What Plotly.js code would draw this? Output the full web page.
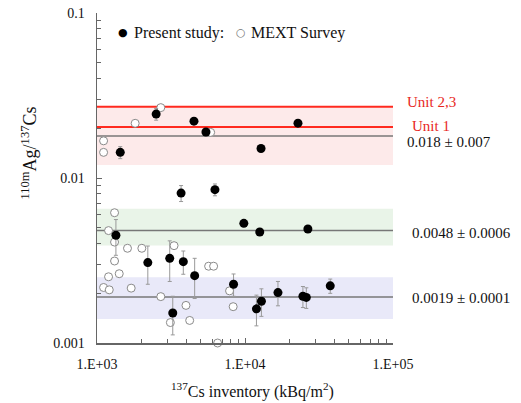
<!DOCTYPE html>
<html>
<head>
<meta charset="utf-8">
<script src="https://cdn.plot.ly/plotly-3.0.1.min.js"></script>
<style>html,body{margin:0;padding:0;background:#fff;}#chart{width:521px;height:403px;}</style>
</head>
<body>
<div id="chart"></div>
<script>
// Present study (filled circles)
const presentX = [2510, 1436, 4520, 5445, 22800, 12830, 3700, 6265, 1342, 2205, 3100, 3830, 4570, 3250, 8370, 9820, 12580, 26600, 11950, 12910, 16700, 24620, 25960, 37670];
const presentY = [0.0244, 0.0143, 0.0221, 0.0190, 0.0215, 0.0151, 0.0081, 0.0085, 0.0045, 0.00307, 0.00326, 0.00311, 0.00256, 0.00152, 0.00227, 0.00531, 0.00471, 0.00491, 0.00161, 0.00179, 0.00202, 0.00192, 0.00189, 0.00222];
const presentErr = [0.002, 0.0012, 0, 0, 0, 0, 0.0009, 0.0007, 0.0011, 0.0008, 0.0009, 0.0005, 0.0007, 0.0004, 0.00035, 0, 0, 0, 0.00034, 0.00034, 0.00034, 0.00028, 0.00027, 0.00022];
// MEXT Survey (open circles)
const mextX = [2698, 1811, 1108, 1108, 5860, 1314, 1197, 1314, 1314, 1413, 1197, 1108, 1210, 1607, 2009, 1702, 3316, 2698, 3992, 3131, 4229, 5677, 6137, 7864, 8318, 6530];
const mextY = [0.0267, 0.02145, 0.0168, 0.0143, 0.0189, 0.00616, 0.0048, 0.00409, 0.00314, 0.00263, 0.00252, 0.00217, 0.0021, 0.00375, 0.00375, 0.00215, 0.00389, 0.00191, 0.00169, 0.00133, 0.00137, 0.00292, 0.00292, 0.00207, 0.00166, 0.001];
// Reactor unit lines
const unitNames = ["Unit 2,3", "Unit 1"];
const unitY = [0.027, 0.0204];
// Mean lines and bands
const meanY = [0.018, 0.0048, 0.0019];
const meanLabels = ["0.018 ± 0.007", "0.0048 ± 0.0006", "0.0019 ± 0.0001"];
const bandLow = [0.012, 0.0039, 0.0014];
const bandHigh = [0.027, 0.0065, 0.0025];
const bandColors = ["#fdeaea", "#e9f4e8", "#e9e9f9"];
// Ticks
const xTickVals = [1e3, 1e4, 1e5];
const xTickText = ["1.E+03", "1.E+04", "1.E+05"];
const yTickVals = [0.001, 0.01, 0.1];
const yTickText = ["0.001", "0.01", "0.1"];

const serif = "Liberation Serif, Times New Roman, serif";
const red = "#ff2a1f";

const traces = [
  {
    x: mextX, y: mextY, type: "scatter", mode: "markers", name: "MEXT Survey",
    cliponaxis: false,
    marker: {symbol: "circle", size: 8, color: "#ffffff", line: {color: "#8a8a8a", width: 1}}
  },
  {
    x: presentX, y: presentY, type: "scatter", mode: "markers", name: "Present study",
    cliponaxis: false,
    error_y: {type: "data", array: presentErr, visible: true, color: "#999999", thickness: 1, width: 2},
    marker: {symbol: "circle", size: 9, color: "#000000"}
  }
];

const shapes = [];
bandLow.forEach((lo, i) => {
  shapes.push({type: "rect", xref: "paper", yref: "y", x0: 0, x1: 1, y0: lo, y1: bandHigh[i],
    fillcolor: bandColors[i], line: {width: 0}, layer: "below"});
});
meanY.forEach(v => {
  shapes.push({type: "line", xref: "paper", yref: "y", x0: 0, x1: 1, y0: v, y1: v,
    line: {color: "#777777", width: 1.5}, layer: "below"});
});
unitY.forEach(v => {
  shapes.push({type: "line", xref: "paper", yref: "y", x0: 0, x1: 1, y0: v, y1: v,
    line: {color: red, width: 2}, layer: "below"});
});

const annotations = [];
const labelPos = [[1.039, 0.731], [1.058, 0.6585]];
unitNames.forEach((t, i) => {
  annotations.push({text: t, xref: "paper", yref: "paper", x: labelPos[i][0], y: labelPos[i][1],
    xanchor: "left", yanchor: "middle", showarrow: false, font: {family: serif, size: 15, color: "#e8281e"}});
});
const meanPos = [[1.039, 0.61], [1.058, 0.3324], [1.058, 0.1355]];
meanLabels.forEach((t, i) => {
  annotations.push({text: t, xref: "paper", yref: "paper", x: meanPos[i][0], y: meanPos[i][1],
    xanchor: "left", yanchor: "middle", showarrow: false, font: {family: serif, size: 15, color: "#111"}});
});
// legend
annotations.push({text: "●", xref: "paper", yref: "paper", x: (122.7-97)/296.5, y: (343-33)/330,
  xanchor: "center", yanchor: "middle", showarrow: false, font: {family: "DejaVu Sans", size: 11, color: "#000"}});
annotations.push({text: "Present study:", xref: "paper", yref: "paper", x: (132-97)/296.5, y: (343-33)/330,
  xanchor: "left", yanchor: "middle", showarrow: false, font: {family: serif, size: 16, color: "#111"}});
annotations.push({text: "○", xref: "paper", yref: "paper", x: (241.7-97)/296.5, y: (343-33)/330,
  xanchor: "center", yanchor: "middle", showarrow: false, font: {family: "DejaVu Sans", size: 11, color: "#777"}});
annotations.push({text: "MEXT Survey", xref: "paper", yref: "paper", x: (249.5-97)/296.5, y: (343-33)/330,
  xanchor: "left", yanchor: "middle", showarrow: false, font: {family: serif, size: 16, color: "#111"}});
// axis titles
annotations.push({text: "<sup>110m</sup>Ag/<sup>137</sup>Cs", xref: "paper", yref: "paper",
  x: (29-97)/296.5, y: (343-153.5)/330, xanchor: "center", yanchor: "middle", textangle: -90,
  showarrow: false, font: {family: serif, size: 18, color: "#111"}});
annotations.push({text: "<sup>137</sup>Cs inventory (kBq/m<sup>2</sup>)", xref: "paper", yref: "paper",
  x: (253-97)/296.5, y: (343-390)/330, xanchor: "center", yanchor: "middle",
  showarrow: false, font: {family: serif, size: 16, color: "#111"}});

const layout = {
  width: 521, height: 403,
  margin: {l: 97, r: 127.5, t: 13, b: 60},
  paper_bgcolor: "#fff", plot_bgcolor: "#fff",
  showlegend: false,
  font: {family: serif, size: 14, color: "#111"},
  xaxis: {
    type: "log", range: [3, 5], showgrid: false, zeroline: false,
    showline: true, linecolor: "#666", linewidth: 1.5,
    ticks: "inside", ticklen: 5, tickcolor: "#666", tickwidth: 1,
    tickmode: "array", tickvals: xTickVals, ticktext: xTickText,
    ticklabelstandoff: 8,
    tickfont: {family: serif, size: 14, color: "#111"},
    minor: {ticks: "inside", ticklen: 4, tickcolor: "#666", dtick: "D1", showgrid: false}
  },
  yaxis: {
    type: "log", range: [-3, -1], showgrid: false, zeroline: false,
    showline: true, linecolor: "#666", linewidth: 1.5,
    ticks: "inside", ticklen: 5, tickcolor: "#666", tickwidth: 1,
    tickmode: "array", tickvals: yTickVals, ticktext: yTickText,
    ticklabelstandoff: 8,
    tickfont: {family: serif, size: 14, color: "#111"},
    minor: {ticks: "inside", ticklen: 4, tickcolor: "#666", dtick: "D1", showgrid: false}
  },
  shapes: shapes,
  annotations: annotations
};

Plotly.newPlot("chart", traces, layout, {displayModeBar: false, staticPlot: true});
</script>
</body>
</html>
